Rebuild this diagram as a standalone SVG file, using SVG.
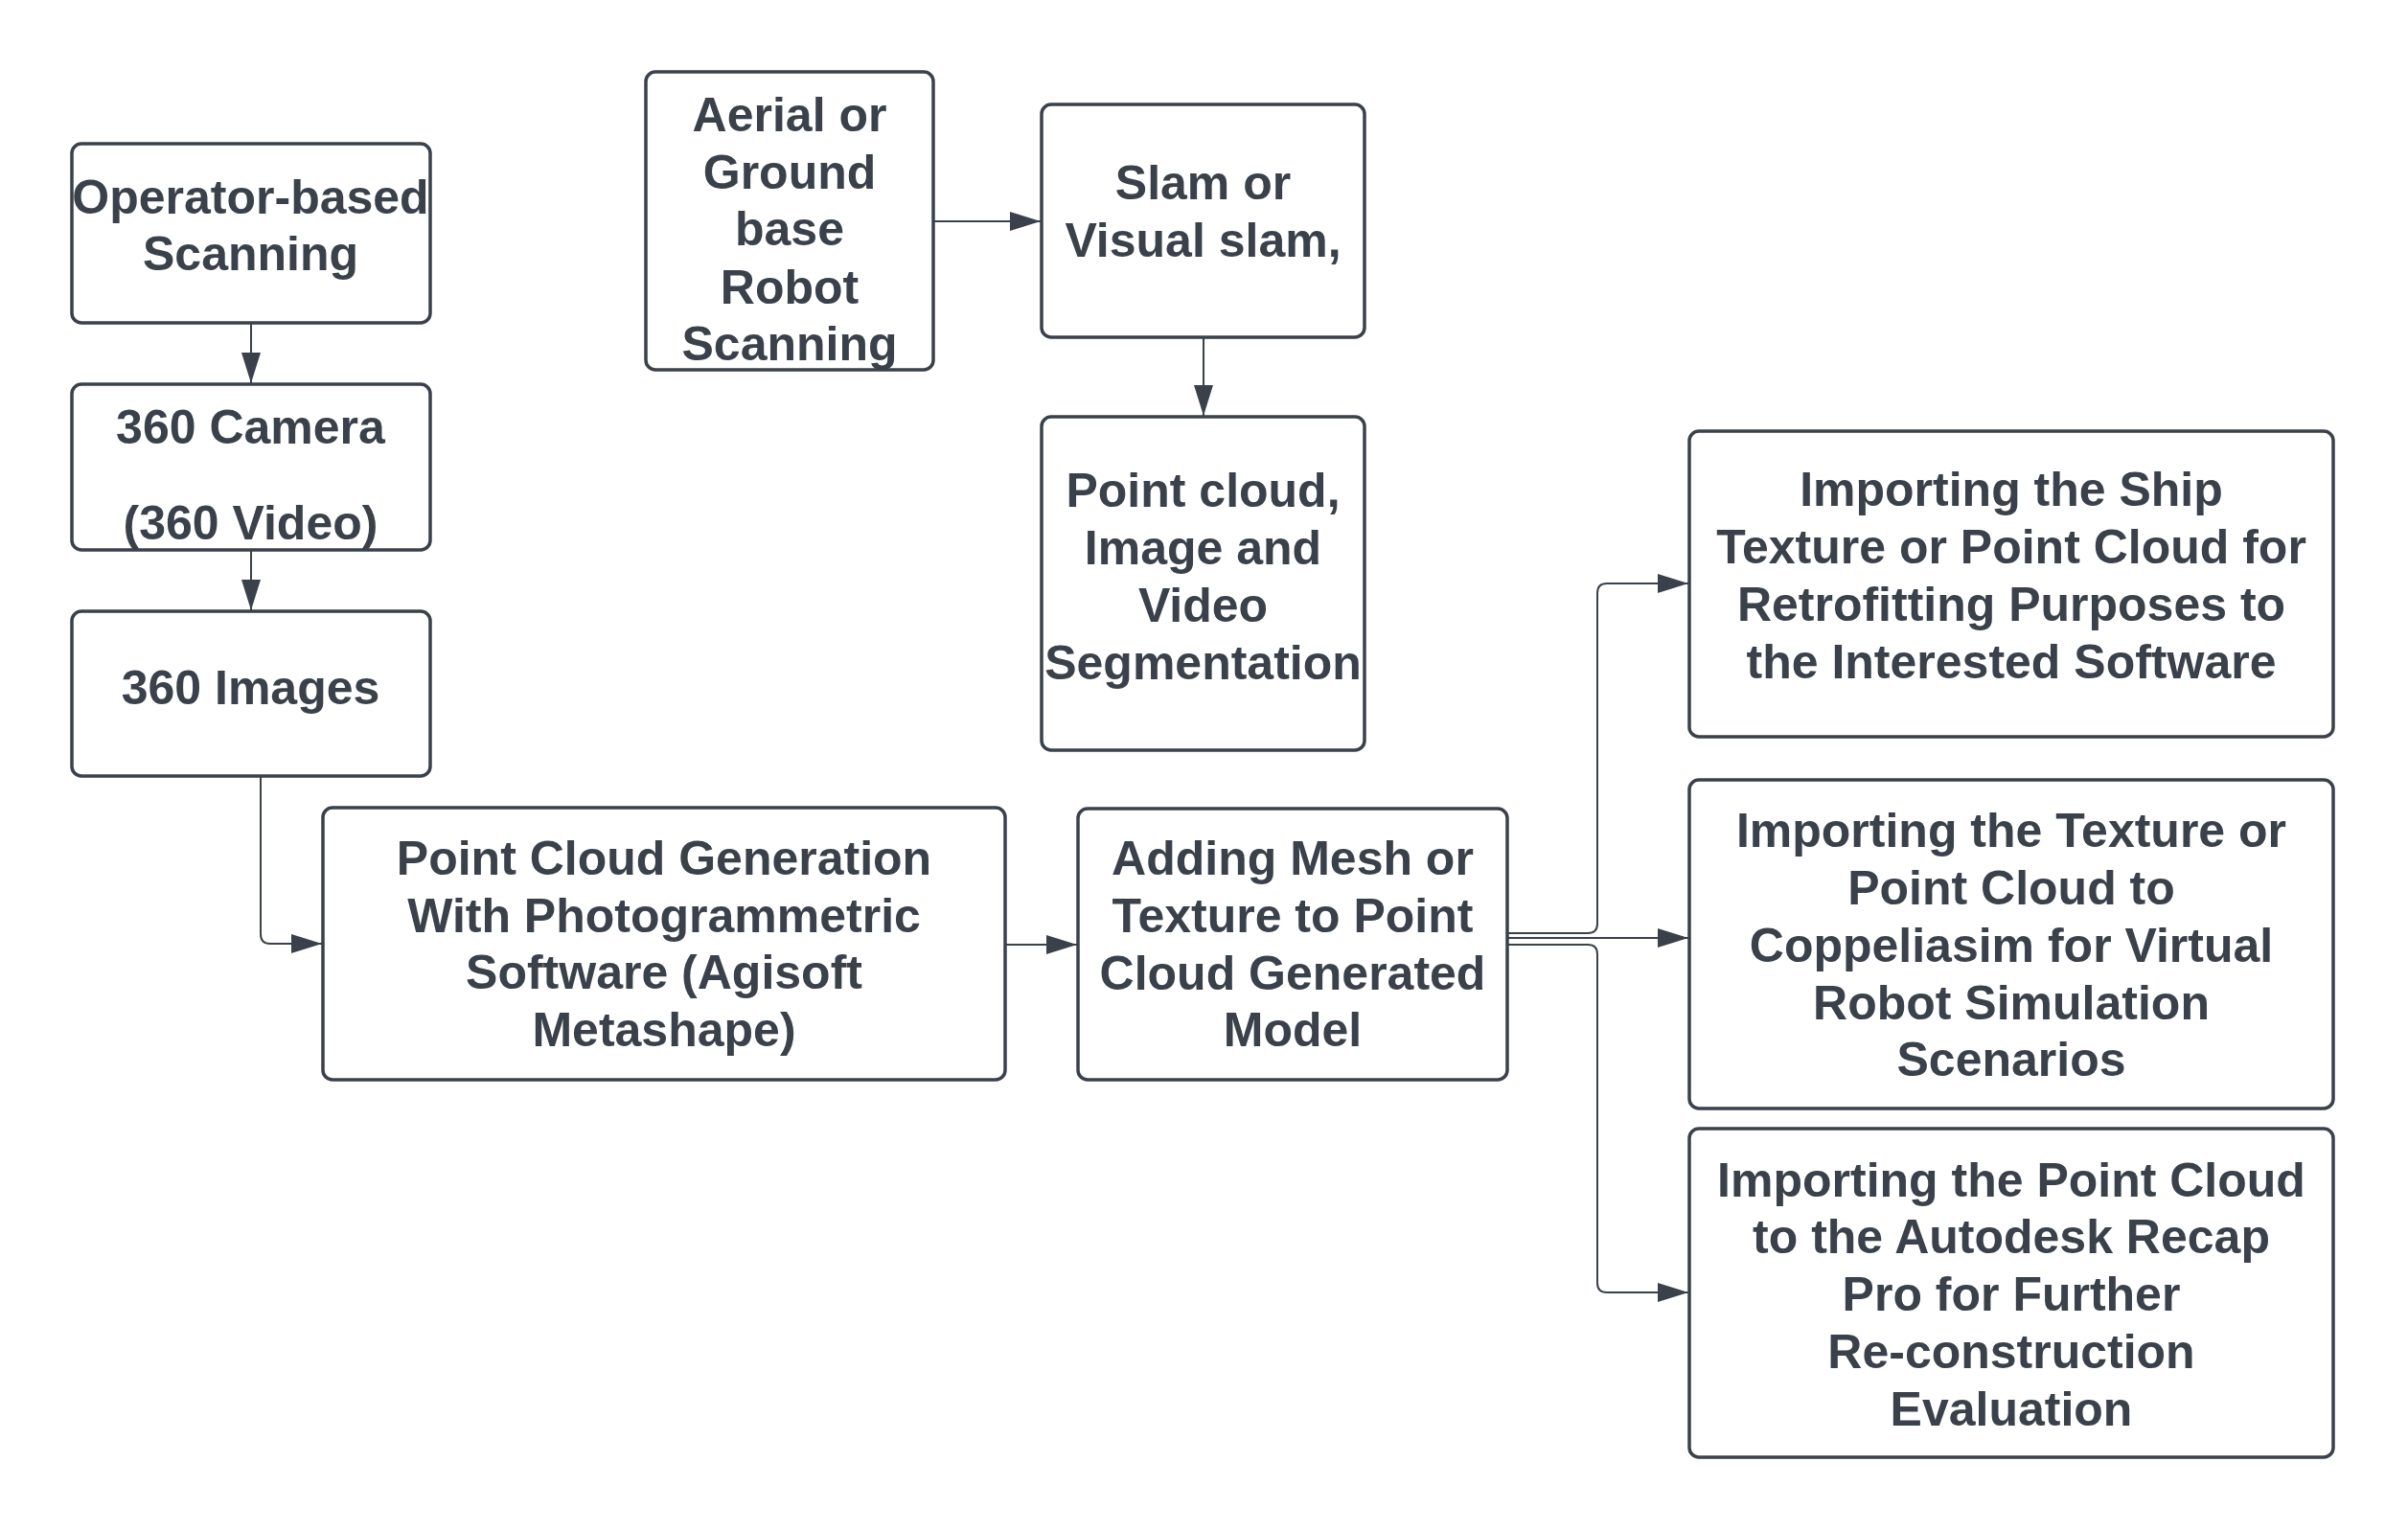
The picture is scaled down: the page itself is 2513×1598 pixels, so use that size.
<svg xmlns="http://www.w3.org/2000/svg" width="2513" height="1598" viewBox="0 0 2513 1598">
<style>
.box{fill:#ffffff;stroke:#3a414a;stroke-width:3.5}
.t{font-family:"Liberation Sans",Arial,sans-serif;font-weight:bold;font-size:50px;fill:#3a414a;text-anchor:middle}
.c{fill:none;stroke:#3a414a;stroke-width:2}
</style>
<defs>
<marker id="ah" markerUnits="userSpaceOnUse" markerWidth="32" markerHeight="20" refX="32" refY="10" orient="auto" viewBox="0 0 32 20">
<path d="M0,0 L32,10 L0,20 z" fill="#3a414a"/>
</marker>
</defs>
<rect width="2513" height="1598" fill="#ffffff"/>
<g id="connectors">
<path class="c" d="M262,338 V400" marker-end="url(#ah)"/>
<path class="c" d="M262,575 V637" marker-end="url(#ah)"/>
<path class="c" d="M272,811 V975 Q272,985 282,985 H336" marker-end="url(#ah)"/>
<path class="c" d="M975,231 H1086" marker-end="url(#ah)"/>
<path class="c" d="M1256,353 V434" marker-end="url(#ah)"/>
<path class="c" d="M1050,986 H1124" marker-end="url(#ah)"/>
<path class="c" d="M1574,974 H1657 Q1667,974 1667,964 V619 Q1667,609 1677,609 H1762" marker-end="url(#ah)"/>
<path class="c" d="M1574,979 H1762" marker-end="url(#ah)"/>
<path class="c" d="M1574,986 H1657 Q1667,986 1667,996 V1339 Q1667,1349 1677,1349 H1762" marker-end="url(#ah)"/>
</g>
<g id="n-operator">
<rect class="box" x="75" y="150" width="374" height="187" rx="10"/>
<text class="t" x="261.5" y="223">Operator-based</text>
<text class="t" x="261.5" y="282">Scanning</text>
</g>
<g id="n-camera">
<rect class="box" x="75" y="401" width="374" height="173" rx="10"/>
<text class="t" x="261.5" y="463">360 Camera</text>
<text class="t" x="261.5" y="563">(360 Video)</text>
</g>
<g id="n-images">
<rect class="box" x="75" y="638" width="374" height="172" rx="10"/>
<text class="t" x="261.5" y="735">360 Images</text>
</g>
<g id="n-aerial">
<rect class="box" x="674" y="75" width="300" height="311" rx="10"/>
<text class="t" x="824" y="137">Aerial or</text>
<text class="t" x="824" y="197">Ground</text>
<text class="t" x="824" y="256">base</text>
<text class="t" x="824" y="317">Robot</text>
<text class="t" x="824" y="376">Scanning</text>
</g>
<g id="n-slam">
<rect class="box" x="1087" y="109" width="337" height="243" rx="10"/>
<text class="t" x="1255.5" y="208">Slam or</text>
<text class="t" x="1255.5" y="268">Visual slam,</text>
</g>
<g id="n-segmentation">
<rect class="box" x="1087" y="435" width="337" height="348" rx="10"/>
<text class="t" x="1255.5" y="529">Point cloud,</text>
<text class="t" x="1255.5" y="589">Image and</text>
<text class="t" x="1255.5" y="649">Video</text>
<text class="t" x="1255.5" y="709">Segmentation</text>
</g>
<g id="n-pcgen">
<rect class="box" x="337" y="843" width="712" height="284" rx="10"/>
<text class="t" x="693" y="913">Point Cloud Generation</text>
<text class="t" x="693" y="973">With Photogrammetric</text>
<text class="t" x="693" y="1032">Software (Agisoft</text>
<text class="t" x="693" y="1092">Metashape)</text>
</g>
<g id="n-mesh">
<rect class="box" x="1125" y="844" width="448" height="283" rx="10"/>
<text class="t" x="1349" y="913">Adding Mesh or</text>
<text class="t" x="1349" y="973">Texture to Point</text>
<text class="t" x="1349" y="1033">Cloud Generated</text>
<text class="t" x="1349" y="1092">Model</text>
</g>
<g id="n-ship">
<rect class="box" x="1763" y="450" width="672" height="319" rx="10"/>
<text class="t" x="2099" y="528">Importing the Ship</text>
<text class="t" x="2099" y="588">Texture or Point Cloud for</text>
<text class="t" x="2099" y="648">Retrofitting Purposes to</text>
<text class="t" x="2099" y="708">the Interested Software</text>
</g>
<g id="n-coppelia">
<rect class="box" x="1763" y="814" width="672" height="343" rx="10"/>
<text class="t" x="2099" y="884">Importing the Texture or</text>
<text class="t" x="2099" y="944">Point Cloud to</text>
<text class="t" x="2099" y="1004">Coppeliasim for Virtual</text>
<text class="t" x="2099" y="1064">Robot Simulation</text>
<text class="t" x="2099" y="1123">Scenarios</text>
</g>
<g id="n-recap">
<rect class="box" x="1763" y="1178" width="672" height="343" rx="10"/>
<text class="t" x="2099" y="1249">Importing the Point Cloud</text>
<text class="t" x="2099" y="1308">to the Autodesk Recap</text>
<text class="t" x="2099" y="1368">Pro for Further</text>
<text class="t" x="2099" y="1428">Re-construction</text>
<text class="t" x="2099" y="1488">Evaluation</text>
</g>
</svg>
